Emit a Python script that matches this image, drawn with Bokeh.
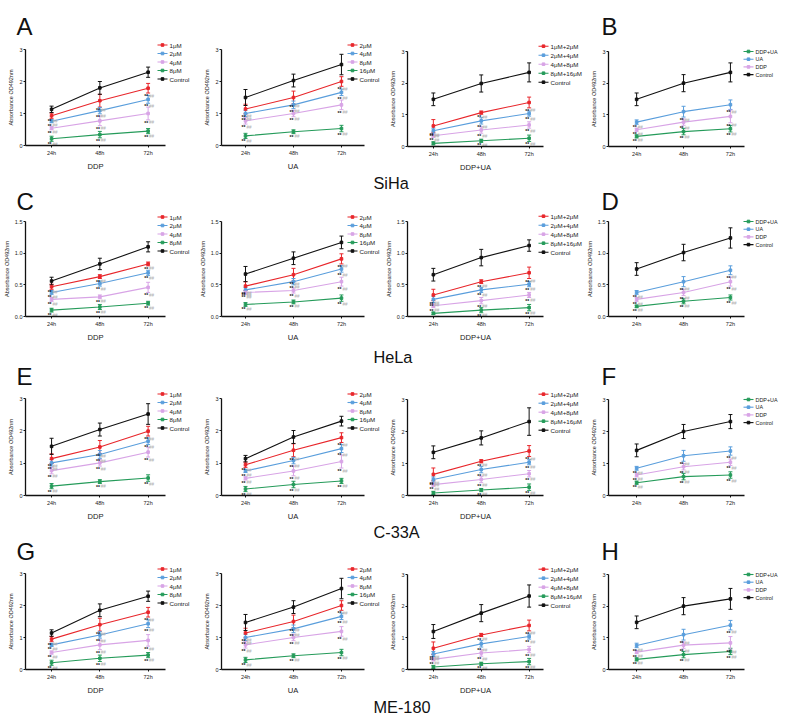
from bokeh.plotting import figure
from bokeh.layouts import column
from bokeh.models import (Range1d, FixedTicker, Whisker, TeeHead, ColumnDataSource)
from bokeh.embed import file_html
from bokeh.resources import INLINE
from bokeh.core.properties import value

# ---------------- data ----------------
TIMES = ["24h", "48h", "72h"]
CELL_LINES = ["SiHa", "HeLa", "C-33A", "ME-180"]
LETTERS = [("A", "B"), ("C", "D"), ("E", "F"), ("G", "H")]
X_TITLES = ["DDP", "UA", "DDP+UA", ""]
DDP_LABELS = ["1μM", "2μM", "4μM", "8μM", "Control"]
UA_LABELS = ["2μM", "4μM", "8μM", "16μM", "Control"]
COMBO_LABELS = ["1μM+2μM", "2μM+4μM", "4μM+8μM", "8μM+16μM", "Control"]
SUMMARY_LABELS = ["DDP+UA", "UA", "DDP", "Control"]
Y_MAX = [3, 1.5, 3, 3]
Y_TICKS = [[0, 1, 2, 3], [0, 0.5, 1.0, 1.5], [0, 1, 2, 3], [0, 1, 2, 3]]
Y_TICK_LABELS = [["0", "1", "2", "3"], ["0.0", "0.5", "1.0", "1.5"],
                 ["0", "1", "2", "3"], ["0", "1", "2", "3"]]

# SiHa
SIHA_DDP = [[0.93, 1.40, 1.79], [0.76, 1.09, 1.44], [0.54, 0.77, 1.00], [0.21, 0.34, 0.45], [1.13, 1.80, 2.29]]
SIHA_DDP_SD = [[0.08, 0.20, 0.15], [0.05, 0.10, 0.12], [0.05, 0.15, 0.20], [0.08, 0.10, 0.08], [0.10, 0.20, 0.16]]
SIHA_UA = [[1.14, 1.50, 2.00], [1.00, 1.27, 1.66], [0.77, 1.00, 1.27], [0.30, 0.43, 0.53], [1.50, 2.03, 2.53]]
SIHA_UA_SD = [[0.15, 0.20, 0.15], [0.10, 0.12, 0.10], [0.10, 0.10, 0.15], [0.08, 0.06, 0.10], [0.25, 0.20, 0.32]]
SIHA_COMBO = [[0.65, 1.07, 1.39], [0.50, 0.81, 1.04], [0.34, 0.52, 0.68], [0.10, 0.18, 0.26], [1.49, 1.99, 2.34]]
SIHA_COMBO_SD = [[0.20, 0.05, 0.17], [0.08, 0.10, 0.08], [0.05, 0.10, 0.10], [0.05, 0.05, 0.10], [0.20, 0.27, 0.30]]
SIHA_SUM = [[0.32, 0.47, 0.56], [0.77, 1.10, 1.32], [0.53, 0.77, 0.95], [1.49, 2.00, 2.34]]
SIHA_SUM_SD = [[0.05, 0.10, 0.10], [0.07, 0.17, 0.15], [0.05, 0.10, 0.20], [0.20, 0.27, 0.30]]

# HeLa
HELA_DDP = [[0.47, 0.63, 0.83], [0.38, 0.52, 0.69], [0.27, 0.31, 0.46], [0.10, 0.15, 0.21], [0.56, 0.83, 1.10]]
HELA_DDP_SD = [[0.04, 0.03, 0.03], [0.03, 0.04, 0.04], [0.03, 0.03, 0.08], [0.03, 0.04, 0.03], [0.06, 0.09, 0.08]]
HELA_UA = [[0.48, 0.66, 0.91], [0.42, 0.55, 0.75], [0.38, 0.41, 0.55], [0.19, 0.23, 0.29], [0.67, 0.92, 1.17]]
HELA_UA_SD = [[0.07, 0.10, 0.08], [0.04, 0.05, 0.05], [0.03, 0.04, 0.07], [0.03, 0.03, 0.05], [0.12, 0.10, 0.10]]
HELA_COMBO = [[0.34, 0.55, 0.69], [0.27, 0.42, 0.51], [0.17, 0.25, 0.34], [0.05, 0.10, 0.14], [0.66, 0.93, 1.12]]
HELA_COMBO_SD = [[0.09, 0.03, 0.09], [0.05, 0.04, 0.04], [0.03, 0.05, 0.04], [0.02, 0.04, 0.05], [0.10, 0.13, 0.09]]
HELA_SUM = [[0.16, 0.24, 0.30], [0.38, 0.55, 0.73], [0.27, 0.38, 0.55], [0.75, 1.01, 1.24]]
HELA_SUM_SD = [[0.02, 0.04, 0.04], [0.03, 0.08, 0.07], [0.03, 0.05, 0.07], [0.10, 0.13, 0.16]]

# C-33A
C33A_DDP = [[1.14, 1.50, 1.99], [1.01, 1.27, 1.68], [0.77, 1.01, 1.34], [0.29, 0.43, 0.54], [1.52, 2.04, 2.52]]
C33A_DDP_SD = [[0.15, 0.20, 0.15], [0.10, 0.12, 0.10], [0.10, 0.10, 0.15], [0.08, 0.06, 0.10], [0.25, 0.20, 0.32]]
C33A_UA = [[0.95, 1.40, 1.79], [0.76, 1.08, 1.45], [0.53, 0.76, 1.05], [0.20, 0.34, 0.45], [1.14, 1.81, 2.30]]
C33A_UA_SD = [[0.08, 0.20, 0.15], [0.05, 0.10, 0.12], [0.05, 0.15, 0.20], [0.08, 0.10, 0.08], [0.10, 0.20, 0.15]]
C33A_COMBO = [[0.66, 1.07, 1.39], [0.50, 0.81, 1.04], [0.34, 0.50, 0.68], [0.08, 0.17, 0.26], [1.35, 1.80, 2.31]]
C33A_COMBO_SD = [[0.20, 0.05, 0.17], [0.08, 0.10, 0.08], [0.05, 0.10, 0.10], [0.05, 0.05, 0.10], [0.20, 0.22, 0.43]]
C33A_SUM = [[0.40, 0.59, 0.64], [0.85, 1.24, 1.39], [0.64, 0.90, 1.04], [1.41, 2.00, 2.31]]
C33A_SUM_SD = [[0.05, 0.10, 0.10], [0.06, 0.17, 0.13], [0.06, 0.10, 0.10], [0.20, 0.22, 0.22]]

# ME-180
ME180_DDP = [[0.95, 1.40, 1.79], [0.77, 1.08, 1.43], [0.53, 0.77, 0.91], [0.21, 0.35, 0.45], [1.14, 1.85, 2.29]]
ME180_DDP_SD = [[0.08, 0.20, 0.15], [0.05, 0.10, 0.12], [0.05, 0.15, 0.18], [0.08, 0.10, 0.08], [0.10, 0.20, 0.16]]
ME180_UA = [[1.14, 1.50, 2.00], [1.00, 1.27, 1.66], [0.77, 1.00, 1.19], [0.30, 0.43, 0.53], [1.47, 1.95, 2.53]]
ME180_UA_SD = [[0.15, 0.20, 0.15], [0.10, 0.12, 0.10], [0.10, 0.10, 0.15], [0.08, 0.06, 0.10], [0.25, 0.20, 0.32]]
ME180_COMBO = [[0.67, 1.09, 1.39], [0.49, 0.81, 1.04], [0.32, 0.52, 0.63], [0.08, 0.18, 0.25], [1.20, 1.78, 2.32]]
ME180_COMBO_SD = [[0.20, 0.05, 0.17], [0.08, 0.10, 0.08], [0.05, 0.10, 0.10], [0.05, 0.05, 0.10], [0.22, 0.27, 0.35]]
ME180_SUM = [[0.32, 0.47, 0.57], [0.76, 1.10, 1.40], [0.55, 0.77, 0.84], [1.49, 2.00, 2.23]]
ME180_SUM_SD = [[0.05, 0.10, 0.10], [0.07, 0.17, 0.15], [0.05, 0.10, 0.20], [0.20, 0.27, 0.33]]

PANELS = [
    [(SIHA_DDP, SIHA_DDP_SD), (SIHA_UA, SIHA_UA_SD), (SIHA_COMBO, SIHA_COMBO_SD), (SIHA_SUM, SIHA_SUM_SD)],
    [(HELA_DDP, HELA_DDP_SD), (HELA_UA, HELA_UA_SD), (HELA_COMBO, HELA_COMBO_SD), (HELA_SUM, HELA_SUM_SD)],
    [(C33A_DDP, C33A_DDP_SD), (C33A_UA, C33A_UA_SD), (C33A_COMBO, C33A_COMBO_SD), (C33A_SUM, C33A_SUM_SD)],
    [(ME180_DDP, ME180_DDP_SD), (ME180_UA, ME180_UA_SD), (ME180_COMBO, ME180_COMBO_SD), (ME180_SUM, ME180_SUM_SD)],
]
COL_LABELS = [DDP_LABELS, UA_LABELS, COMBO_LABELS, SUMMARY_LABELS]

# ---------------- styling / layout ----------------
RED, BLUE, PINK, GREEN, BLACK = "#e8262b", "#5a9edc", "#d8a4e6", "#259b5a", "#111111"
COL_COLORS = [[RED, BLUE, PINK, GREEN, BLACK]] * 3 + [[GREEN, BLUE, PINK, BLACK]]
FONT = "Liberation Sans"
W, H = 792, 715

COL_LEFT = [25, 221, 407, 608]              # page x of y-axis
COL_XR = [(0.46, 3.36), (0.5, 3.48), (0.46, 3.3), (0.4, 3.3)]
COL_STEP = [48.3, 48, 48, 47]
ROW_TB_L = [(49, 145), (221, 316), (398, 495), (573, 669)]
ROW_TB_R = [(51, 146), (221, 316), (399, 495), (574, 669)]
LEG_X = [157, 347, 538, 743]
LEG_FIRST = [-4.5, -4.5, -5.3, 0.0]         # first item center rel. to frame top
LEG_IH = [8.5, 8.5, 9.0, 7.7]
LEG_FS = ["6.2px", "6.2px", "6.2px", "5.4px"]

leg_seg = dict(x0=[], x1=[], y=[], c=[])
leg_txt = dict(x=[], y=[], t=[], fs=[])


def make_panel(r, c):
    means, sds = PANELS[r][c]
    labels = COL_LABELS[c]
    colors = COL_COLORS[c]
    L = COL_LEFT[c]
    x0, x1 = COL_XR[c]
    top, bot = (ROW_TB_L if c < 2 else ROW_TB_R)[r]
    fw = int(round((x1 - x0) * COL_STEP[c]))
    fh = bot - top
    p = figure(width=W, height=H, x_range=Range1d(x0, x1), y_range=Range1d(0, Y_MAX[r]),
               min_border_left=L, min_border_right=W - L - fw,
               min_border_top=top, min_border_bottom=H - top - fh,
               frame_align=False, sizing_mode="fixed", title=None,
               output_backend="svg", toolbar_location=None)
    p.background_fill_alpha = 0
    p.border_fill_alpha = 0
    p.outline_line_color = None
    p.xgrid.visible = False
    p.ygrid.visible = False

    xs = [1, 2, 3]
    star_x, star_y = [], []
    for m, sd, lab, col in zip(means, sds, labels, colors):
        src = ColumnDataSource(dict(x=xs, y=m, lo=[a - b for a, b in zip(m, sd)],
                                    hi=[a + b for a, b in zip(m, sd)]))
        p.line("x", "y", source=src, line_color=col, line_width=1.1)
        p.scatter("x", "y", source=src, size=2.6, marker="square", fill_color=col, line_color=col)
        p.add_layout(Whisker(source=src, base="x", lower="lo", upper="hi", line_color=col,
                             line_width=1,
                             upper_head=TeeHead(size=4, line_color=col, line_width=1),
                             lower_head=TeeHead(size=4, line_color=col, line_width=1)))
        if lab != "Control":
            star_x.extend(xs)
            star_y.extend([a - b for a, b in zip(m, sd)])

    ssrc = ColumnDataSource(dict(x=star_x, y=star_y))
    p.text("x", "y", text=value("**"), source=ssrc, text_font=value(FONT), text_font_size="5px",
           text_font_style="bold", text_color="#111111", text_align="right",
           text_baseline="middle", y_offset=3)
    p.text("x", "y", text=value("##"), source=ssrc, text_font=value(FONT), text_font_size="4.5px",
           text_color="#b0b0b0", text_align="left", text_baseline="middle", x_offset=1, y_offset=3)

    # legend entries (drawn on the overlay in page pixels)
    gx = LEG_X[c]
    for k, (lab, col) in enumerate(zip(labels, colors)):
        yc = top + LEG_FIRST[c] + k * LEG_IH[c]
        leg_seg["x0"].append(gx)
        leg_seg["x1"].append(gx + 10)
        leg_seg["y"].append(yc)
        leg_seg["c"].append(col)
        leg_txt["x"].append(gx + 12)
        leg_txt["y"].append(yc)
        leg_txt["t"].append(lab)
        leg_txt["fs"].append(LEG_FS[c])

    # axes
    for ax in (p.xaxis[0], p.yaxis[0]):
        ax.axis_line_width = 1.3
        ax.axis_line_color = "#111111"
        ax.major_tick_line_color = "#111111"
        ax.major_tick_out = 2
        ax.major_tick_in = 0
        ax.minor_tick_line_color = None
        ax.major_label_text_font = FONT
        ax.major_label_text_font_size = "5.5px"
        ax.major_label_text_color = "#222222"
        ax.axis_label_text_font = FONT
        ax.axis_label_text_font_style = "normal"
        ax.axis_label_text_color = "#222222"
    p.xaxis.ticker = FixedTicker(ticks=xs)
    p.xaxis.major_label_overrides = {1: TIMES[0], 2: TIMES[1], 3: TIMES[2]}
    p.xaxis.major_label_standoff = 2
    p.xaxis.axis_label = X_TITLES[c] if X_TITLES[c] else None
    p.xaxis.axis_label_text_font_size = "7.6px"
    p.xaxis.axis_label_standoff = 3
    p.yaxis.ticker = FixedTicker(ticks=Y_TICKS[r])
    p.yaxis.major_label_overrides = {t: s for t, s in zip(Y_TICKS[r], Y_TICK_LABELS[r])}
    p.yaxis.major_label_standoff = 1
    p.yaxis.axis_label = "Absorbance OD492nm"
    p.yaxis.axis_label_text_font_size = "5.5px"
    p.yaxis.axis_label_standoff = 2
    return p


figs = []
for r in range(4):
    for c in range(4):
        figs.append(make_panel(r, c))

# overlay: panel letters, cell-line titles and legends, in page pixels
t = figure(width=W, height=H, x_range=Range1d(0, W), y_range=Range1d(H, 0), min_border=0,
           x_axis_type=None, y_axis_type=None, frame_align=False, sizing_mode="fixed",
           title=None, output_backend="svg", toolbar_location=None)
t.background_fill_alpha = 0
t.border_fill_alpha = 0
t.outline_line_color = None
t.xgrid.visible = False
t.ygrid.visible = False
LETTER_BASE = [26, 201, 376, 551]
TITLE_BASE = [182, 356, 531, 706]
lx, ly, ltxt = [], [], []
for r in range(4):
    lx += [16, 601]
    ly += [LETTER_BASE[r]] * 2
    ltxt += list(LETTERS[r])
t.text(x=lx, y=ly, text=ltxt, text_font=value(FONT), text_font_size="24px",
       text_color="#111111", text_baseline="alphabetic", text_align="left")
t.text(x=[373] * 4, y=TITLE_BASE, text=CELL_LINES, text_font=value(FONT),
       text_font_size="16.3px", text_color="#111111", text_baseline="alphabetic", text_align="left")

seg_src = ColumnDataSource(dict(x0=leg_seg["x0"], x1=leg_seg["x1"], y=leg_seg["y"], c=leg_seg["c"],
                                xm=[(a + b) / 2 for a, b in zip(leg_seg["x0"], leg_seg["x1"])]))
t.segment(x0="x0", y0="y", x1="x1", y1="y", line_color="c", line_width=1.1, source=seg_src)
t.scatter(x="xm", y="y", marker="square", size=2.6, fill_color="c", line_color="c", source=seg_src)
txt_src = ColumnDataSource(dict(x=leg_txt["x"], y=leg_txt["y"], t=leg_txt["t"], fs=leg_txt["fs"]))
t.text(x="x", y="y", text="t", text_font_size="fs", text_font=value(FONT), text_color="#222222",
       text_baseline="middle", text_align="left", source=txt_src)

allf = [t] + figs
for f in allf[:-1]:
    f.margin = (0, 0, -H, 0)
allf[-1].margin = (0, 0, 0, 0)
lay = column(*allf, spacing=0, sizing_mode="fixed", width=W, height=H)
open("out.html", "w").write(file_html(lay, INLINE))
